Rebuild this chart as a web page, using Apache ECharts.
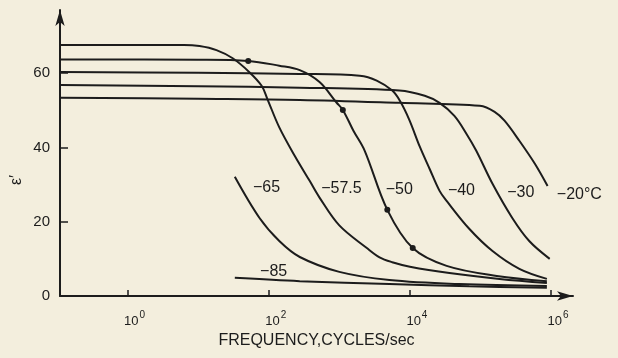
<!DOCTYPE html>
<html><head><meta charset="utf-8">
<script src="https://cdn.jsdelivr.net/npm/echarts@6/dist/echarts.min.js"></script>
<style>html,body{margin:0;padding:0;background:#f3eedd}#c{width:618px;height:358px}</style>
</head><body><div id="c"></div><script>
// each point: [log10(frequency, cycles/sec), epsilon']
const c575 = [[-0.95,67.6],[0.8,67.6],[1.02,67.3],[1.26,66.2],[1.49,64.0],[1.73,60.2],[1.9,56.6],[1.98,53.1],[2.15,45.4],[2.37,37.7],[2.58,31.0],[2.72,26.5],[3.0,19.0],[3.39,12.9],[3.57,10.4],[3.75,9.1],[4.0,7.9],[4.56,6.2],[5.27,4.6],[5.94,3.5]];
const c50 = [[-0.95,63.7],[1.0,63.6],[1.71,63.3],[2.15,62.0],[2.44,60.8],[2.72,57.6],[2.96,52.1],[3.05,50.1],[3.2,44.5],[3.36,39.1],[3.68,23.2],[4.04,12.9],[4.52,8.1],[5.23,5.4],[5.94,4.0]];
const c40 = [[-0.95,60.3],[1.0,60.1],[2.44,59.8],[3.29,59.3],[3.53,58.0],[3.75,55.3],[3.86,52.5],[3.99,47.5],[4.14,40.2],[4.28,34.2],[4.42,28.3],[4.52,25.6],[4.84,18.1],[5.17,12.1],[5.55,7.3],[5.94,4.6]];
const c30 = [[-0.95,56.8],[1.0,56.5],[2.44,56.1],[3.85,55.3],[4.21,53.9],[4.42,52.0],[4.63,48.5],[4.8,43.7],[4.94,39.1],[5.17,30.2],[5.45,21.0],[5.69,14.8],[5.98,10.0]];
const c20 = [[-0.95,53.4],[1.0,53.1],[2.44,52.8],[3.85,52.0],[4.99,51.2],[5.2,49.6],[5.34,47.2],[5.55,41.8],[5.77,35.6],[5.95,29.6]];
const c65 = [[1.52,32.1],[1.87,21.0],[2.15,14.8],[2.44,10.5],[3.0,6.5],[3.71,4.3],[4.7,3.2],[5.94,2.7]];
const c85 = [[1.52,4.9],[2.44,4.0],[3.71,3.2],[4.84,2.6],[5.94,2.2]];
const dots50 = [[1.71,63.3],[3.05,50.1],[3.68,23.2],[4.04,12.9]];
const curveLabels = [[1.97,29.1,'\u221265'],[3.03,28.8,'\u221257.5'],[3.85,28.6,'\u221250'],[4.73,28.3,'\u221240'],[5.57,27.8,'\u221230'],[6.40,27.2,'\u221220\u00b0C'],[2.07,6.5,'\u221285']];
const xTickExp = [0,2,4,6];
const yTicks = [20,40,60];
const yLabels = [0,20,40,60];

const ink = '#1c1c1c';
const font = '"Liberation Sans", Arial, sans-serif';
const lineSeries = (name, arr) => ({
  type: 'line', name, data: arr, smooth: 0.35,
  showSymbol: false, symbol: 'none', silent: true, z: 3,
  lineStyle: { color: ink, width: 2 }
});
const chart = echarts.init(document.getElementById('c'));
chart.setOption({
  backgroundColor: '#f3eedd',
  animation: false,
  grid: { left: 60, right: 45, top: 10, bottom: 62 },
  xAxis: {
    type: 'value', min: -0.956, max: 6.31,
    name: 'FREQUENCY,CYCLES/sec', nameLocation: 'middle', nameGap: 36,
    nameTextStyle: { fontFamily: font, fontSize: 16, color: ink },
    axisLine: { onZero: false, symbol: ['none', 'arrow'], symbolSize: [7, 16], lineStyle: { color: ink, width: 2 } },
    axisTick: { customValues: xTickExp, inside: true, length: 6, lineStyle: { color: ink, width: 1.5 } },
    axisLabel: {
      customValues: xTickExp,
      margin: 14, padding: [0, 0, 0, 14],
      formatter: v => '{b|10}{s|' + Math.round(v) + '}',
      rich: {
        b: { fontFamily: font, fontSize: 13, color: ink, verticalAlign: 'bottom' },
        s: { fontFamily: font, fontSize: 10, color: ink, verticalAlign: 'top', padding: [0, 0, 8, 1] }
      }
    },
    splitLine: { show: false }
  },
  yAxis: {
    type: 'value', min: 0, max: 77,
    axisLine: { show: true, onZero: false, symbol: ['none', 'arrow'], symbolSize: [7, 16], lineStyle: { color: ink, width: 2 } },
    axisTick: { show: true, customValues: yTicks, inside: true, length: 8, lineStyle: { color: ink, width: 1.5 } },
    axisLabel: { customValues: yLabels, margin: 10, fontFamily: font, fontSize: 15, color: ink },
    splitLine: { show: false }
  },
  graphic: [{
    type: 'text', x: 17, y: 180, rotation: Math.PI / 2,
    style: { text: '\u03b5\u2032', fontFamily: font, fontSize: 16, fill: ink, textAlign: 'center', textVerticalAlign: 'middle' }
  }],
  series: [
    lineSeries('-57.5', c575),
    lineSeries('-50', c50),
    lineSeries('-40', c40),
    lineSeries('-30', c30),
    lineSeries('-20', c20),
    lineSeries('-65', c65),
    lineSeries('-85', c85),
    { type: 'scatter', data: dots50, symbolSize: 6, itemStyle: { color: ink, opacity: 1 }, z: 4, silent: true },
    { type: 'scatter', data: curveLabels, symbolSize: 0, clip: false, silent: true, z: 5,
      itemStyle: { color: ink, opacity: 1 },
      label: { show: true, position: [0, 0], align: 'center', verticalAlign: 'middle',
        formatter: p => p.data[2], fontFamily: font, fontSize: 16, color: ink,
        textBorderWidth: 0, textShadowBlur: 0 } }
  ]
});
</script></body></html>
